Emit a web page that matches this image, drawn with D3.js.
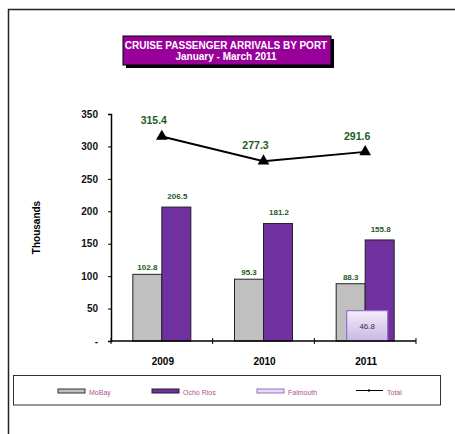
<!DOCTYPE html>
<html>
<head>
<meta charset="utf-8">
<script src="https://cdn.jsdelivr.net/npm/d3@7"></script>
<style>
  body { margin: 0; background: #fff; }
  svg { display: block; font-family: "Liberation Sans", Arial, sans-serif; }
</style>
</head>
<body>
<div id="wrapper"></div>
<script>
const years = ["2009", "2010", "2011"];
const mobay = [102.8, 95.3, 88.3];
const ochoRios = [206.5, 181.2, 155.8];
const falmouth = [null, null, 46.8];
const total = [315.4, 277.3, 291.6];
const yTicks = [0, 50, 100, 150, 200, 250, 300, 350];

const width = 455, height = 434;
const margin = {left: 111, right: 39, top: 114, bottom: 93};

const svg = d3.select("#wrapper").append("svg")
  .attr("width", width).attr("height", height);

// outer frame (left + top)
svg.append("path")
  .attr("d", `M8.5,${height} V9.5 H${width}`)
  .attr("fill", "none").attr("stroke", "#222").attr("stroke-width", 1.5);

const x = d3.scaleBand().domain(years)
  .range([margin.left, width - margin.right]);
const y = d3.scaleLinear().domain([0, 350])
  .range([height - margin.bottom, margin.top]);

const green = "#1e5a1e";
const barW = 29;

// y axis
const yAxis = d3.axisLeft(y).tickValues(yTicks).tickSize(3)
  .tickFormat(d => d === 0 ? "-" : d);
const gy = svg.append("g").attr("transform", `translate(${margin.left},0)`).call(yAxis);
gy.select(".domain").attr("stroke", "#000").attr("stroke-width", 1.5);
gy.selectAll(".tick line").attr("stroke", "#000").attr("x2", -3);
gy.selectAll(".tick text").attr("x", -13)
  .style("font-size", "10px").style("font-weight", "bold").attr("fill", "#111");

svg.append("text")
  .attr("transform", `translate(40,${(margin.top + height - margin.bottom) / 2}) rotate(-90)`)
  .attr("text-anchor", "middle")
  .style("font-size", "10px").style("font-weight", "bold")
  .text("Thousands");

// bars
years.forEach((yr, i) => {
  const cx = x(yr) + x.bandwidth() / 2;
  svg.append("rect")
    .attr("x", cx - barW).attr("y", y(mobay[i]))
    .attr("width", barW).attr("height", y(0) - y(mobay[i]))
    .attr("fill", "#c0c0c0").attr("stroke", "#222").attr("stroke-width", 1);
  svg.append("rect")
    .attr("x", cx).attr("y", y(ochoRios[i]))
    .attr("width", barW).attr("height", y(0) - y(ochoRios[i]))
    .attr("fill", "#7030a0").attr("stroke", "#222").attr("stroke-width", 1);
  svg.append("text")
    .attr("x", cx - barW / 2).attr("y", y(mobay[i]) - 4)
    .attr("text-anchor", "middle").attr("fill", green)
    .style("font-size", "8px").style("font-weight", "bold")
    .text(mobay[i]);
  svg.append("text")
    .attr("x", cx + barW / 2 + 1).attr("y", y(ochoRios[i]) - 8)
    .attr("text-anchor", "middle").attr("fill", green)
    .style("font-size", "8px").style("font-weight", "bold")
    .text(ochoRios[i]);
});

// falmouth (overlapping wider bar)
const defs = svg.append("defs");
const grad = defs.append("linearGradient").attr("id", "falm")
  .attr("x1", 0).attr("y1", 0).attr("x2", 0).attr("y2", 1);
grad.append("stop").attr("offset", "0%").attr("stop-color", "#f3eefb");
grad.append("stop").attr("offset", "100%").attr("stop-color", "#c9b6e4");

years.forEach((yr, i) => {
  if (falmouth[i] == null) return;
  const cx = x(yr) + x.bandwidth() / 2 + 2;
  svg.append("rect")
    .attr("x", cx - 20.5).attr("y", y(falmouth[i]))
    .attr("width", 41).attr("height", y(0) - y(falmouth[i]))
    .attr("fill", "url(#falm)").attr("stroke", "#9a6cc4").attr("stroke-width", 1.2);
  svg.append("text")
    .attr("x", cx).attr("y", (y(falmouth[i]) + y(0)) / 2 + 3)
    .attr("text-anchor", "middle").attr("fill", "#333")
    .style("font-size", "8px")
    .text(falmouth[i]);
});

// x axis
const xLin = d3.scaleLinear().domain([0, 3]).range([margin.left, width - margin.right]);
const gx = svg.append("g").attr("transform", `translate(0,${y(0)})`);
gx.append("line").attr("x1", margin.left).attr("x2", width - margin.right)
  .attr("stroke", "#000").attr("stroke-width", 1.5);
gx.selectAll(".tk").data(d3.range(0, 4)).join("line")
  .attr("x1", d => xLin(d)).attr("x2", d => xLin(d))
  .attr("y1", -3).attr("y2", 3).attr("stroke", "#000");
gx.selectAll(".lab").data(years).join("text")
  .attr("x", d => x(d) + x.bandwidth() / 2 + 1).attr("y", 24)
  .attr("text-anchor", "middle")
  .style("font-size", "10px").style("font-weight", "bold")
  .text(d => d);

// total line
const line = d3.line().x((d, i) => x(years[i]) + x.bandwidth() / 2).y(d => y(d));
svg.append("path").attr("d", line(total))
  .attr("fill", "none").attr("stroke", "#000").attr("stroke-width", 2);
const tri = d3.symbol().type(d3.symbolTriangle).size(60);
total.forEach((v, i) => {
  const cx = x(years[i]) + x.bandwidth() / 2;
  svg.append("path").attr("d", tri())
    .attr("transform", `translate(${cx},${y(v)})`).attr("fill", "#000");
  svg.append("text")
    .attr("x", cx - 8).attr("y", y(v) - 12)
    .attr("text-anchor", "middle").attr("fill", green)
    .style("font-size", "10.5px").style("font-weight", "bold")
    .text(v);
});

// title box
const tb = {x: 123, y: 36, w: 208, h: 29};
svg.append("rect").attr("x", tb.x + 3).attr("y", tb.y + 3)
  .attr("width", tb.w).attr("height", tb.h).attr("fill", "#000");
svg.append("rect").attr("x", tb.x).attr("y", tb.y)
  .attr("width", tb.w).attr("height", tb.h)
  .attr("fill", "#990099").attr("stroke", "#000").attr("stroke-width", 1);
svg.append("text").attr("x", tb.x + tb.w / 2 - 1).attr("y", tb.y + 12.5)
  .attr("text-anchor", "middle").attr("fill", "#fff")
  .style("font-size", "10px").style("font-weight", "bold")
  .text("CRUISE PASSENGER ARRIVALS BY PORT");
svg.append("text").attr("x", tb.x + tb.w / 2 - 1).attr("y", tb.y + 23.5)
  .attr("text-anchor", "middle").attr("fill", "#fff")
  .style("font-size", "10px").style("font-weight", "bold")
  .text("January - March 2011");

// legend
svg.append("rect").attr("x", 13.5).attr("y", 375.5).attr("width", 427).attr("height", 29.5)
  .attr("fill", "#fff").attr("stroke", "#333").attr("stroke-width", 1);
const legend = [
  {name: "MoBay", fill: "#c0c0c0", stroke: "#333", x: 58},
  {name: "Ocho Rios", fill: "#7030a0", stroke: "#222", x: 152},
  {name: "Falmouth", fill: "#e6dcf4", stroke: "#9a6cc4", x: 257},
  {name: "Total", fill: null, stroke: "#000", x: 356}
];
legend.forEach(d => {
  if (d.fill) {
    svg.append("rect").attr("x", d.x).attr("y", 389).attr("width", 27).attr("height", 4)
      .attr("fill", d.fill).attr("stroke", d.stroke).attr("stroke-width", 1);
  } else {
    svg.append("line").attr("x1", d.x).attr("x2", d.x + 27).attr("y1", 390.5).attr("y2", 390.5)
      .attr("stroke", "#000").attr("stroke-width", 1);
    svg.append("rect").attr("x", d.x + 12).attr("y", 389.5).attr("width", 2).attr("height", 2).attr("fill", "#000");
  }
  svg.append("text").attr("x", d.x + 31).attr("y", 394.5)
    .attr("fill", "#b0508a").style("font-size", "7px")
    .text(d.name);
});
</script>
</body>
</html>
